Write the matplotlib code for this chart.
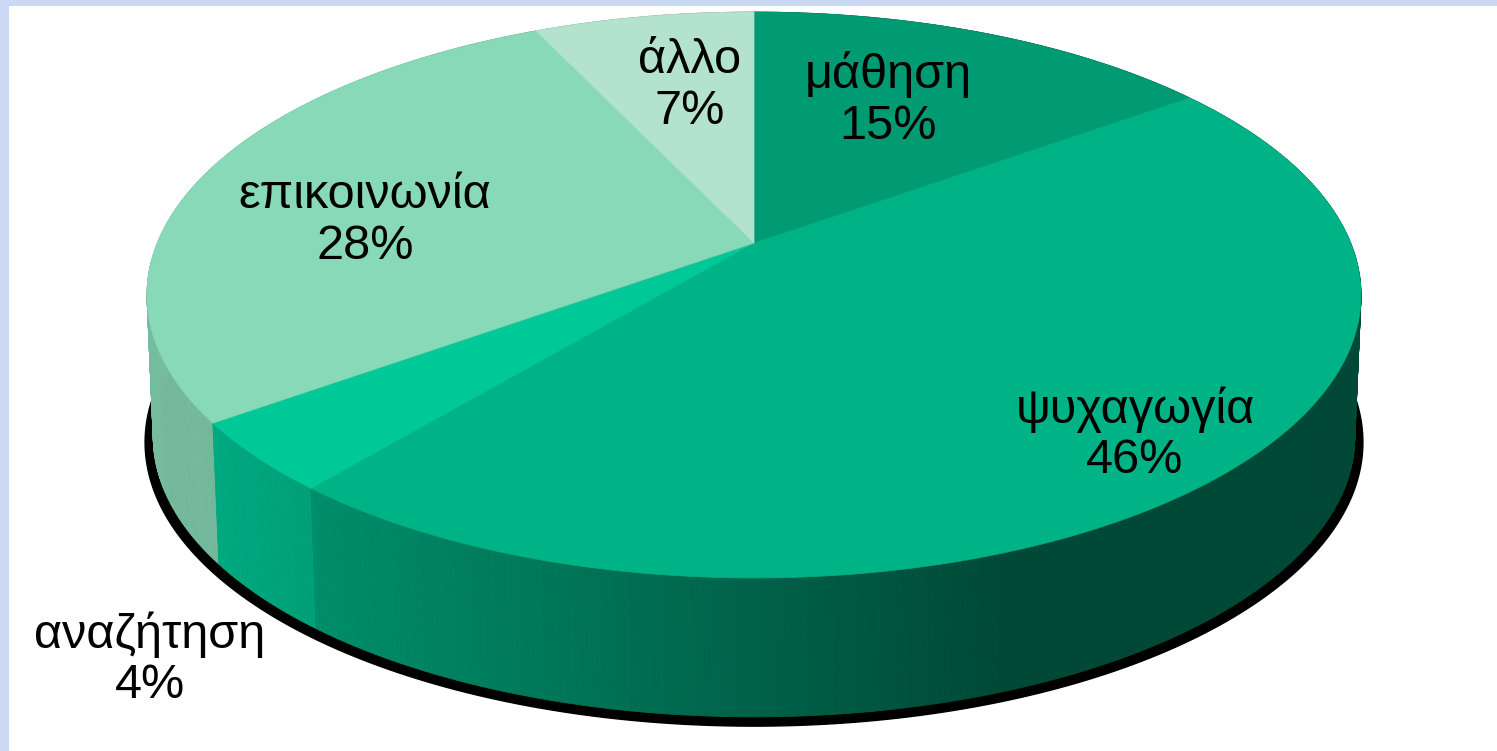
import numpy as np
import matplotlib
matplotlib.use("Agg")
import matplotlib.pyplot as plt
from matplotlib.patches import Polygon, Rectangle
from matplotlib.collections import PolyCollection
from matplotlib.colors import to_rgb

# data, clockwise from 12 o'clock
categories = ["μάθηση", "ψυχαγωγία", "αναζήτηση", "επικοινωνία", "άλλο"]
shares = [15, 46, 4, 28, 7]
colors = ["#009A73", "#00B386", "#00C896", "#88D9B7", "#B3E3CF"]

# label centres in pixel coords
label_pos = [(888, 100), (1135, 435), (150, 660), (365, 221), (690, 86)]

W, H = 1497, 751
fig = plt.figure(figsize=(W / 100, H / 100), dpi=100)
fig.patch.set_facecolor("#CAD9F3")
ax = fig.add_axes([0, 0, 1, 1])
ax.set_xlim(0, W)
ax.set_ylim(H, 0)
ax.axis("off")
ax.add_patch(Rectangle((9, 6), W, H, facecolor="white", edgecolor="none", zorder=0))

# perspective view of the disk
cx, cy = 754, 243
sx, sy, k = 596.7, 273.4, 0.1837
depth = 143

def proj(theta, r=1.0, dy=0.0):
    u, v = r * np.cos(theta), r * np.sin(theta)
    w = 1 - k * v
    return cx + sx * u / w, cy + dy + sy * v / w

def shade(x):
    return np.clip(0.86 - 0.45 * (x - 200) / 800, 0.41, 0.86)

# angle boundaries, theta grows clockwise on screen starting at top
bounds = -np.pi / 2 + 2 * np.pi * np.concatenate([[0], np.cumsum(shares)]) / sum(shares)

# shadow under the side
t = np.linspace(0, 2 * np.pi, 400)
shx, shy = proj(t, 1.003, 147)
ax.add_patch(Polygon(np.column_stack([shx, shy]), closed=True, facecolor="black",
                     edgecolor="black", lw=1, zorder=1))

# side wall
strips, scol, sdepth = [], [], []
for i in range(len(shares)):
    th = np.linspace(bounds[i], bounds[i + 1], max(3, int(shares[i] * 8)))
    base = np.array(to_rgb(colors[i]))
    for a, b in zip(th[:-1], th[1:]):
        xa, ya = proj(a)
        xb, yb = proj(b)
        xa2, ya2 = proj(a, 0.99, depth)
        xb2, yb2 = proj(b, 0.99, depth)
        strips.append([(xa, ya), (xb, yb), (xb2, yb2), (xa2, ya2)])
        scol.append(base * shade((xa + xb) / 2))
        sdepth.append(np.sin((a + b) / 2))
order = np.argsort(sdepth)
pc = PolyCollection([strips[j] for j in order], facecolors=[scol[j] for j in order],
                    edgecolors=[scol[j] for j in order], linewidths=0.6, zorder=2)
ax.add_collection(pc)

# top face
for i in range(len(shares)):
    th = np.linspace(bounds[i], bounds[i + 1], 200)
    px, py = proj(th)
    verts = np.vstack([[cx, cy], np.column_stack([px, py])])
    ax.add_patch(Polygon(verts, closed=True, facecolor=colors[i], edgecolor=colors[i],
                         lw=0.5, zorder=3))

for cat, val, (lx, ly) in zip(categories, shares, label_pos):
    ax.text(lx, ly, f"{cat}\n{val}%", ha="center", va="center", fontsize=35,
            family=["Liberation Sans", "DejaVu Sans"], linespacing=1.15, zorder=4)

fig.savefig("out.png", dpi=100, facecolor=fig.get_facecolor())
